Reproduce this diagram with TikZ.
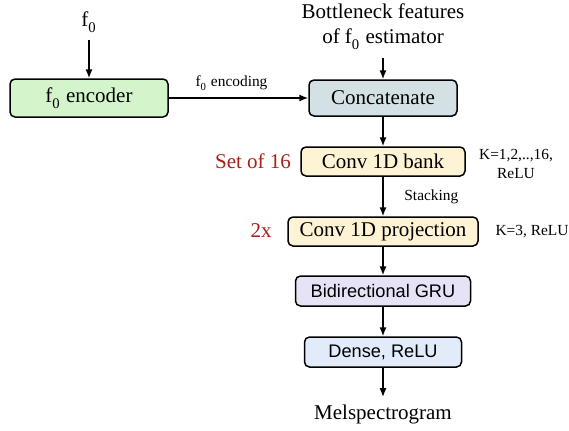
\documentclass[tikz,border=0pt]{standalone}
\usepackage{fontspec}
\setmainfont{Liberation Serif}
\setsansfont{Liberation Sans}
\usepackage{tikz}
\usetikzlibrary{arrows.meta}
\usepackage{xcolor}
\definecolor{encgreen}{HTML}{D4F5CC}
\definecolor{catgray}{HTML}{D3E1E4}
\definecolor{convcream}{HTML}{FFF3D6}
\definecolor{grulilac}{HTML}{E7E3F6}
\definecolor{densblue}{HTML}{E1EBFA}
\definecolor{setred}{HTML}{A8201A}
\newcommand{\fnull}{f\textsubscript{\raisebox{-0.45ex}{0}}}

\begin{document}
\begin{tikzpicture}[x=0.5pt, y=-0.5pt, line width=0.75pt,
    font=\fontsize{10.5}{12.5}\selectfont,
    >={Latex[length=4.5pt,width=3.6pt]},
    blk/.style={draw, rounded corners=2.5pt, inner sep=0pt, minimum height=14.5pt},
    lbl/.style={font=\fontsize{7.7}{9.2}\selectfont},
    rep/.style={text=setred}]
    \useasboundingbox (0,0) rectangle (569,430);
    % Entradas
    \node (f0) at (89,22) {\fnull};
    \node[align=center] (bneck) at (383,27) {Bottleneck features\\of \fnull{} estimator};
    % Blocos
    \node[blk, fill=encgreen, minimum width=79pt, minimum height=19pt] (enc) at (89,98) {\fnull{} encoder};
    \node[blk, fill=catgray, minimum width=74pt, minimum height=18pt] (concat) at (383,98) {Concatenate};
    \node[blk, fill=convcream, minimum width=82pt] (bank) at (383,161.5) {Conv 1D bank};
    \node[blk, fill=convcream, minimum width=95pt] (proj) at (383,231.5) {Conv 1D projection};
    \node[blk, fill=grulilac, minimum width=87.5pt, minimum height=15pt, font=\sffamily\fontsize{9.1}{11}\selectfont] (gru) at (383,291) {Bidirectional GRU};
    \node[blk, fill=densblue, minimum width=78.5pt, minimum height=15pt, font=\sffamily\fontsize{9.1}{11}\selectfont] (dense) at (383,352) {Dense, ReLU};
    % Saida
    \node (mel) at (383,414) {Melspectrogram};
    % Setas
    \draw[->] (f0) -- (enc);
    \draw[->] (bneck) -- (concat);
    \draw[->] (enc) -- node[lbl, above, pos=0.45] {\fnull{} encoding} (concat);
    \draw[->] (concat) -- (bank);
    \draw[->] (bank) -- node[lbl, right, xshift=7pt] {Stacking} (proj);
    \draw[->] (proj) -- (gru);
    \draw[->] (gru) -- (dense);
    \draw[->] (dense) -- (mel);
    % Anotacoes
    \node[rep] (set16) at (253,161) {Set of 16};
    \node[rep] (twox) at (261,231) {2x};
    \node[lbl, align=center] (bankk) at (516,164) {K=1,2,..,16,\\ReLU};
    \node[lbl] (projk) at (532,232) {K=3, ReLU};
\end{tikzpicture}
\end{document}
